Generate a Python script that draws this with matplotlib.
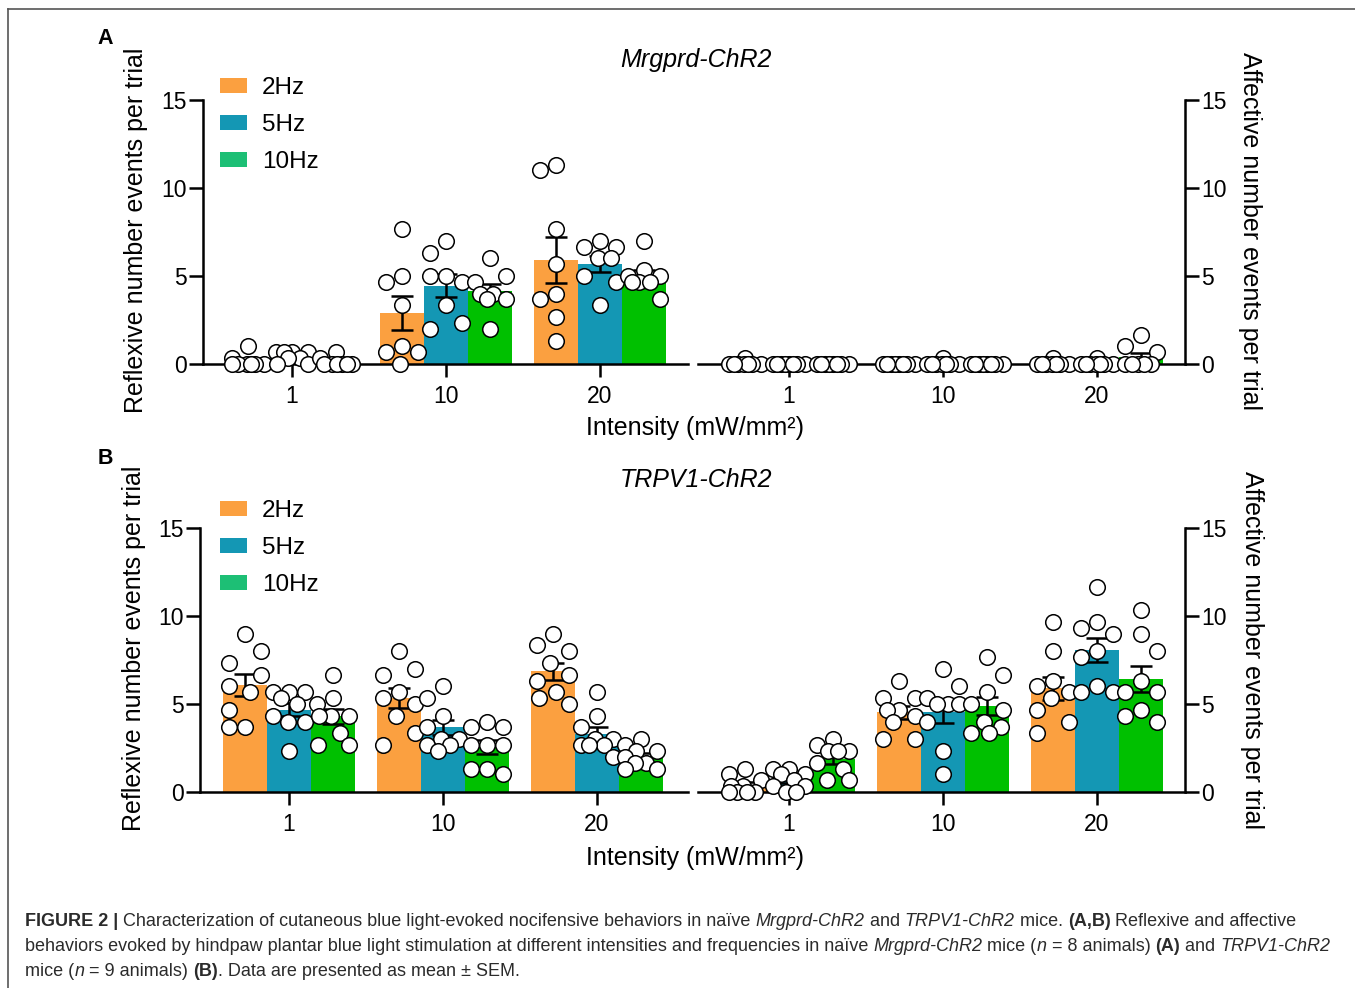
import matplotlib
matplotlib.use("Agg")
import matplotlib.pyplot as plt
from matplotlib.patches import Patch
from matplotlib.lines import Line2D
import numpy as np

plt.rcParams['font.family'] = ['Liberation Sans', 'DejaVu Sans']

W, H = 1355, 988

freqs = ['2Hz', '5Hz', '10Hz']
intensities = ['1', '10', '20']
bar_colors = ['#FBA040', '#1497B4', '#00C000']
legend_colors = ['#FBA040', '#1497B4', '#1DBF75']

# Mrgprd-ChR2 (n = 8), rows = intensity 1, 10, 20
mrg_reflex_2hz = [[1.0, 0.33, 0, 0, 0, 0, 0, 0],
                  [7.67, 5.0, 4.67, 3.33, 1.0, 0.67, 0.67, 0],
                  [11.33, 11.0, 7.67, 5.67, 4.0, 3.67, 2.67, 1.33]]
mrg_reflex_5hz = [[0.67, 0.67, 0.67, 0.67, 0.33, 0.33, 0, 0],
                  [7.0, 6.33, 5.0, 5.0, 4.67, 3.33, 2.33, 2.0],
                  [7.0, 6.67, 6.67, 6.0, 6.0, 5.0, 4.67, 3.33]]
mrg_reflex_10hz = [[0.67, 0.33, 0, 0, 0, 0, 0, 0],
                   [6.0, 5.0, 4.67, 4.0, 4.0, 3.67, 3.67, 2.0],
                   [7.0, 5.33, 5.0, 5.0, 4.67, 4.67, 4.67, 3.67]]
mrg_affect_2hz = [[0.33, 0, 0, 0, 0, 0, 0, 0],
                  [0, 0, 0, 0, 0, 0, 0, 0],
                  [0.33, 0, 0, 0, 0, 0, 0, 0]]
mrg_affect_5hz = [[0, 0, 0, 0, 0, 0, 0, 0],
                  [0.33, 0, 0, 0, 0, 0, 0, 0],
                  [0.33, 0, 0, 0, 0, 0, 0, 0]]
mrg_affect_10hz = [[0, 0, 0, 0, 0, 0, 0, 0],
                   [0, 0, 0, 0, 0, 0, 0, 0],
                   [1.67, 1.0, 0.67, 0, 0, 0, 0, 0]]

# TRPV1-ChR2 (n = 9)
trp_reflex_2hz = [[9.0, 8.0, 7.33, 6.67, 6.0, 5.67, 4.67, 3.67, 3.67],
                  [8.0, 7.0, 6.67, 5.67, 5.33, 5.0, 4.33, 3.33, 2.67],
                  [9.0, 8.33, 8.0, 7.33, 6.67, 6.33, 5.67, 5.33, 5.0]]
trp_reflex_5hz = [[5.67, 5.67, 5.67, 5.33, 5.0, 4.33, 4.0, 4.0, 2.33],
                  [6.0, 5.33, 4.33, 3.67, 3.0, 3.0, 2.67, 2.67, 2.33],
                  [5.67, 4.33, 3.67, 3.0, 3.0, 2.67, 2.67, 2.67, 2.0]]
trp_reflex_10hz = [[6.67, 5.33, 5.0, 4.33, 4.33, 4.33, 3.33, 2.67, 2.67],
                   [4.0, 3.67, 3.67, 2.67, 2.67, 2.67, 1.33, 1.33, 1.0],
                   [3.0, 2.67, 2.33, 2.33, 2.0, 1.67, 1.67, 1.33, 1.33]]
trp_affect_2hz = [[1.33, 1.0, 0.67, 0.33, 0.33, 0, 0, 0, 0],
                  [6.33, 5.33, 5.33, 4.67, 4.67, 4.33, 4.0, 3.0, 3.0],
                  [9.67, 8.0, 6.33, 6.0, 5.67, 5.33, 4.67, 4.0, 3.33]]
trp_affect_5hz = [[1.33, 1.33, 1.0, 1.0, 0.67, 0.33, 0.33, 0, 0],
                  [7.0, 6.0, 5.33, 5.0, 5.0, 5.0, 4.0, 2.33, 1.0],
                  [11.67, 9.67, 9.33, 9.0, 8.0, 7.67, 6.0, 5.67, 5.67]]
trp_affect_10hz = [[3.0, 2.67, 2.33, 2.33, 2.33, 1.67, 1.33, 0.67, 0.67],
                   [7.67, 6.67, 5.67, 5.0, 4.67, 4.0, 3.67, 3.33, 3.33],
                   [10.33, 9.0, 8.0, 6.33, 5.67, 5.67, 4.67, 4.33, 4.0]]

BW = 0.286          # bar width (data units)
DOT = 11.2          # marker diameter in points
LW = 1.8

fig = plt.figure(figsize=(W / 100, H / 100), dpi=100)


def swarm(vals, sx, sy, max_off=16.0):
    # scatter-dot layout in pixel space, returns x offsets in data units
    d = DOT * 100 / 72
    need = 1.5 * d
    first = [0.0, d, -d]
    fine = np.linspace(-max_off, max_off, 33)
    placed = []
    offs = np.zeros(len(vals))
    for i in np.argsort(-vals, kind='stable'):
        y = vals[i] * sy

        def mind(c):
            return min([np.hypot(c - px, y - py) for px, py in placed] or [1e9])

        chosen = None
        for c in first:
            if mind(c) >= need:
                chosen = c
                break
        if chosen is None:
            scores = [mind(c) - 0.01 * abs(c) for c in fine]
            chosen = fine[int(np.argmax(scores))]
        placed.append((chosen, y))
        offs[i] = chosen
    return offs / sx


def make_ax(l, r, t, b, xlo, xhi, side):
    ax = fig.add_axes([l / W, 1 - b / H, (r - l) / W, (b - t) / H])
    ax.set_xlim(xlo, xhi)
    ax.set_ylim(0, 15)
    for s in ['top', 'left', 'right', 'bottom']:
        ax.spines[s].set_visible(False)
    ax.spines['bottom'].set_visible(True)
    ax.spines['bottom'].set_linewidth(LW)
    ax.spines[side].set_visible(True)
    ax.spines[side].set_linewidth(LW)
    ax.set_yticks([0, 5, 10, 15])
    ax.set_xticks([0, 1, 2])
    ax.set_xticklabels(intensities)
    if side == 'right':
        ax.yaxis.tick_right()
    else:
        ax.yaxis.tick_left()
    ax.tick_params(axis='y', length=10, width=LW, labelsize=16.5, pad=1.5)
    ax.tick_params(axis='x', length=9, width=LW, labelsize=16.5, pad=6)
    ax.patch.set_alpha(0)
    return ax


def draw_side(ax, series):
    bb = ax.get_window_extent()
    x0, x1 = ax.get_xlim()
    sx = bb.width / (x1 - x0)
    sy = bb.height / 15.0
    for k, rows in enumerate(series):
        for i, vals in enumerate(rows):
            v = np.array(vals, dtype=float)
            m = v.mean()
            sem = v.std(ddof=1) / np.sqrt(len(v))
            xc = i + (k - 1) * BW
            ax.bar(xc, m, BW, color=bar_colors[k], linewidth=0, zorder=2)
            ax.errorbar(xc, m, yerr=sem, fmt='none', ecolor='black',
                        elinewidth=LW, capsize=8, capthick=LW, zorder=3)
            ax.scatter(xc + swarm(v, sx, sy), v, s=DOT ** 2, facecolor='white',
                       edgecolor='black', linewidth=1.1, zorder=4, clip_on=False)


def panel(top, bot, left_l, series_l, series_r, title, letter, pos):
    axl = make_ax(left_l, 688, top, bot, -0.578, (688 - left_l) / 154 - 0.578, 'left')
    axr = make_ax(698, 1185, top, bot, -0.591, 2.571, 'right')
    draw_side(axl, series_l)
    draw_side(axr, series_r)
    handles = [Patch(facecolor=c, edgecolor='none') for c in legend_colors]
    axl.legend(handles, freqs, loc='upper left', bbox_to_anchor=(220 / W, 1 - pos['leg'] / H),
               bbox_transform=fig.transFigure, frameon=False, fontsize=17.5,
               handlelength=1.1, handleheight=0.58, handletextpad=0.62,
               labelspacing=0.62, borderpad=0, borderaxespad=0)
    fig.text(696 / W, 1 - pos['title'] / H, title, fontsize=18, style='italic',
             ha='center', va='center')
    fig.text(105 / W, 1 - pos['letter'] / H, letter, fontsize=15.5, fontweight='bold',
             ha='center', va='center')
    fig.text(695 / W, 1 - pos['xlab'] / H, 'Intensity (mW/mm²)', fontsize=18,
             ha='center', va='center')
    fig.text(pos['yl'][0] / W, 1 - pos['yl'][1] / H, 'Reflexive number events per trial',
             fontsize=18, rotation=90, ha='center', va='center')
    fig.text(pos['yr'][0] / W, 1 - pos['yr'][1] / H, 'Affective number events per trial',
             fontsize=18, rotation=-90, ha='center', va='center')


panel(100, 364, 203,
      [mrg_reflex_2hz, mrg_reflex_5hz, mrg_reflex_10hz],
      [mrg_affect_2hz, mrg_affect_5hz, mrg_affect_10hz],
      'Mrgprd-ChR2', 'A',
      dict(leg=77, title=60, letter=38, xlab=428, yl=(136, 230), yr=(1250, 231)))
panel(528, 792, 200,
      [trp_reflex_2hz, trp_reflex_5hz, trp_reflex_10hz],
      [trp_affect_2hz, trp_affect_5hz, trp_affect_10hz],
      'TRPV1-ChR2', 'B',
      dict(leg=500, title=480, letter=458, xlab=858, yl=(134, 648), yr=(1252, 650)))

# frame lines of the figure page
fig.add_artist(Line2D([8 / W, 8 / W], [0, 1 - 9 / H], color='#555555', lw=1.2))
fig.add_artist(Line2D([8 / W, 1], [1 - 9 / H, 1 - 9 / H], color='#555555', lw=1.2))

# caption with mixed styles
R, B_, I_ = 'normal', 'bold', 'italic'
cap_lines = [
    [('FIGURE 2 | ', B_), ('Characterization of cutaneous blue light-evoked nocifensive behaviors in naïve ', R),
     ('Mrgprd-ChR2', I_), (' and ', R), ('TRPV1-ChR2', I_), (' mice. ', R), ('(A,B)', B_),
     (' Reflexive and affective', R)],
    [('behaviors evoked by hindpaw plantar blue light stimulation at different intensities and frequencies in naïve ', R),
     ('Mrgprd-ChR2', I_), (' mice (', R), ('n', I_), (' = 8 animals) ', R), ('(A)', B_), (' and ', R),
     ('TRPV1-ChR2', I_)],
    [('mice (', R), ('n', I_), (' = 9 animals) ', R), ('(B)', B_), ('. Data are presented as mean ± SEM.', R)],
]
cap_base = [926, 951, 976]
cap_color = '#2b2b2b'
renderer = fig.canvas.get_renderer()


def seg_kw(style, size):
    kw = dict(fontsize=size, color=cap_color)
    if style == 'bold':
        kw['fontweight'] = 'bold'
    elif style == 'italic':
        kw['fontstyle'] = 'italic'
    return kw


def seg_width(txt, style, size):
    a = fig.text(0, 0, 'x' + txt + 'x', **seg_kw(style, size))
    b = fig.text(0, 0, 'xx', **seg_kw(style, size))
    w = a.get_window_extent(renderer).width - b.get_window_extent(renderer).width
    a.remove()
    b.remove()
    return w


size0 = 12.0
w0 = sum(seg_width(t, s, size0) for t, s in cap_lines[0])
cap_size = size0 * 1270 / w0

for line, yb in zip(cap_lines, cap_base):
    x = 25.0
    for txt, style in line:
        fig.text(x / W, 1 - yb / H, txt, va='baseline', ha='left', **seg_kw(style, cap_size))
        x += seg_width(txt, style, cap_size)

fig.savefig('out.png', dpi=100)
